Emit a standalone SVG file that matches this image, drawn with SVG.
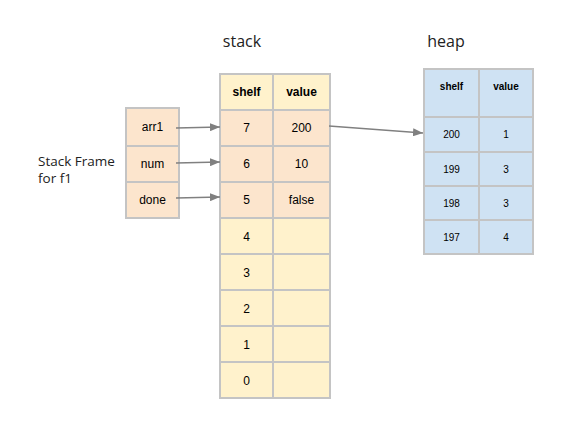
<svg xmlns="http://www.w3.org/2000/svg" width="567" height="425" viewBox="0 0 567 425">
<defs>
<marker id="ah" markerWidth="10" markerHeight="8" refX="10" refY="4" orient="auto" markerUnits="userSpaceOnUse">
<path d="M0,0 L10,4 L0,8 Z" fill="#808080"/>
</marker>
<style>
.c{stroke:#c4c4c4;stroke-width:2}
.y{fill:#fff2cc}
.o{fill:#fce5cd}
.b{fill:#cfe2f3}
.t{font-family:"Liberation Sans",Arial,sans-serif;font-size:12px;fill:#000;text-anchor:middle;dominant-baseline:central}
.h{font-weight:bold}
.s{font-size:10px}
.lbl{font-family:"Open Sans","Noto Sans",sans-serif;fill:#222}
.e{stroke:#808080;stroke-width:1.3;fill:none}
</style>
</defs>
<rect width="567" height="425" fill="#fff"/>
<text class="lbl" x="242" y="47" font-size="16" text-anchor="middle">stack</text>
<text class="lbl" x="446" y="47" font-size="16" text-anchor="middle">heap</text>
<text class="lbl" x="38" y="166" font-size="13.5">Stack Frame</text>
<text class="lbl" x="38" y="183" font-size="13.5">for f1</text>

<g id="frame">
<rect class="c o" x="126" y="108" width="53" height="38"/>
<rect class="c o" x="126" y="146" width="53" height="36"/>
<rect class="c o" x="126" y="182" width="53" height="36"/>
<text class="t" x="152.5" y="127">arr1</text>
<text class="t" x="152.5" y="164">num</text>
<text class="t" x="152.5" y="200">done</text>
</g>

<g id="stack">
<rect class="c y" x="220" y="74" width="53" height="36"/>
<rect class="c y" x="273" y="74" width="57" height="36"/>
<text class="t h" x="246.5" y="92">shelf</text>
<text class="t h" x="301.5" y="92">value</text>
<rect class="c o" x="220" y="110" width="53" height="36"/>
<rect class="c o" x="273" y="110" width="57" height="36"/>
<text class="t" x="246.5" y="128">7</text>
<text class="t" x="301.5" y="128">200</text>
<rect class="c o" x="220" y="146" width="53" height="36"/>
<rect class="c o" x="273" y="146" width="57" height="36"/>
<text class="t" x="246.5" y="164">6</text>
<text class="t" x="301.5" y="164">10</text>
<rect class="c o" x="220" y="182" width="53" height="36"/>
<rect class="c o" x="273" y="182" width="57" height="36"/>
<text class="t" x="246.5" y="200">5</text>
<text class="t" x="301.5" y="200">false</text>
<rect class="c y" x="220" y="218" width="53" height="36"/>
<rect class="c y" x="273" y="218" width="57" height="36"/>
<text class="t" x="246.5" y="237">4</text>
<rect class="c y" x="220" y="254" width="53" height="36"/>
<rect class="c y" x="273" y="254" width="57" height="36"/>
<text class="t" x="246.5" y="273">3</text>
<rect class="c y" x="220" y="290" width="53" height="36"/>
<rect class="c y" x="273" y="290" width="57" height="36"/>
<text class="t" x="246.5" y="309">2</text>
<rect class="c y" x="220" y="326" width="53" height="36"/>
<rect class="c y" x="273" y="326" width="57" height="36"/>
<text class="t" x="246.5" y="345">1</text>
<rect class="c y" x="220" y="362" width="53" height="36"/>
<rect class="c y" x="273" y="362" width="57" height="36"/>
<text class="t" x="246.5" y="381">0</text>
</g>

<g id="heap">
<rect class="c b" x="424" y="69" width="55" height="48"/>
<rect class="c b" x="479" y="69" width="54" height="48"/>
<text class="t h s" x="451.5" y="86">shelf</text>
<text class="t h s" x="506" y="86">value</text>
<rect class="c b" x="424" y="117" width="55" height="35"/>
<rect class="c b" x="479" y="117" width="54" height="35"/>
<text class="t s" x="451.5" y="134">200</text>
<text class="t s" x="506" y="134">1</text>
<rect class="c b" x="424" y="152" width="55" height="34"/>
<rect class="c b" x="479" y="152" width="54" height="34"/>
<text class="t s" x="451.5" y="169">199</text>
<text class="t s" x="506" y="169">3</text>
<rect class="c b" x="424" y="186" width="55" height="34"/>
<rect class="c b" x="479" y="186" width="54" height="34"/>
<text class="t s" x="451.5" y="203">198</text>
<text class="t s" x="506" y="203">3</text>
<rect class="c b" x="424" y="220" width="55" height="34"/>
<rect class="c b" x="479" y="220" width="54" height="34"/>
<text class="t s" x="451.5" y="237">197</text>
<text class="t s" x="506" y="237">4</text>
</g>

<g id="connectors">
<line class="e" x1="176" y1="128" x2="220" y2="127" marker-end="url(#ah)"/>
<line class="e" x1="176" y1="163" x2="220" y2="162" marker-end="url(#ah)"/>
<line class="e" x1="176" y1="198" x2="220" y2="197" marker-end="url(#ah)"/>
<line class="e" x1="329" y1="126" x2="423" y2="133" marker-end="url(#ah)"/>
</g>
</svg>
